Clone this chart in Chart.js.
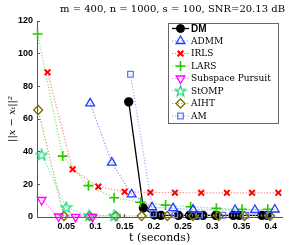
<!DOCTYPE html>
<html>
<head>
<meta charset="utf-8">
<script src="https://cdn.jsdelivr.net/npm/chart.js@4.4.1/dist/chart.umd.min.js"></script>
<style>
  html, body { margin: 0; padding: 0; background: #fff; }
</style>
</head>
<body>
<canvas id="myChart" width="289" height="245"></canvas>
<script>
// values
const dmX    = [0.157, 0.182, 0.201, 0.212, 0.242, 0.261, 0.274, 0.284, 0.306, 0.336, 0.346, 0.385, 0.394];
const dmY    = [70.5, 5.5, 1.2, 1.0, 1.0, 1.0, 1.0, 1.0, 1.0, 1.0, 1.0, 1.0, 1.0];
const admmX  = [0.091, 0.128, 0.162, 0.197, 0.233, 0.267, 0.339, 0.373, 0.407];
const admmY  = [69.6, 33.3, 13.9, 6.0, 5.4, 4.5, 4.3, 4.3, 4.6];
const irlsX  = [0.018, 0.061, 0.105, 0.150, 0.194, 0.236, 0.281, 0.325, 0.368, 0.413];
const irlsY  = [88.6, 29.2, 18.6, 15.5, 15.0, 14.9, 14.8, 14.8, 14.8, 14.8];
const larsX  = [0.001, 0.044, 0.088, 0.132, 0.177, 0.220, 0.263, 0.307, 0.351, 0.395];
const larsY  = [112, 37.3, 19.2, 11.8, 9.0, 7.3, 6.3, 5.3, 4.7, 4.7];
const spX    = [0.008, 0.037, 0.066, 0.095];
const spY    = [10.4, 0.3, 0.1, 0.1];
const stompX = [0.008, 0.050, 0.089, 0.132];
const stompY = [38, 5.9, 0.8, 0.8];
const aihtX  = [0.002, 0.046, 0.090, 0.135, 0.179, 0.223, 0.267, 0.311, 0.355, 0.399];
const aihtY  = [65.5, 0.6, 0.6, 0.6, 0.6, 0.6, 0.6, 0.6, 0.6, 0.6];
const amX    = [0.160, 0.199, 0.236, 0.278, 0.318, 0.357, 0.397];
const amY    = [87.4, 2.0, 1.3, 1.2, 1.1, 1.1, 1.1];

const yTicks = [0, 20, 40, 60, 80, 100, 120];
const xTicks = [0.05, 0.1, 0.15, 0.2, 0.25, 0.3, 0.35, 0.4];

function pts(xs, ys) {
  return xs.map(function(x, i) { return {x: x, y: ys[i]}; });
}

// five point star marker for StOMP
function starMarker(color) {
  const c = document.createElement('canvas');
  c.width = 13; c.height = 13;
  const g = c.getContext('2d');
  g.strokeStyle = color;
  g.lineWidth = 1.2;
  g.beginPath();
  for (let i = 0; i < 10; i++) {
    const r = i % 2 === 0 ? 5.6 : 2.3;
    const a = -Math.PI / 2 + i * Math.PI / 5;
    const px = 6.5 + r * Math.cos(a), py = 6.8 + r * Math.sin(a);
    if (i === 0) g.moveTo(px, py); else g.lineTo(px, py);
  }
  g.closePath();
  g.stroke();
  return c;
}

function dotted(label, data, color, lineColor, style, extra) {
  return Object.assign({
    label: label,
    data: data,
    borderColor: lineColor,
    borderWidth: 1.2,
    borderDash: [1.2, 1.8],
    pointStyle: style,
    pointRadius: 4.5,
    pointBorderColor: color,
    pointBackgroundColor: 'rgba(0,0,0,0)',
    pointBorderWidth: 1.3,
    fill: false,
    clip: false,
    tension: 0
  }, extra || {});
}

const datasets = [
  {
    label: 'DM',
    data: pts(dmX, dmY),
    borderColor: '#000',
    borderWidth: 1.3,
    pointStyle: 'circle',
    pointRadius: 4,
    pointBorderColor: '#000',
    pointBackgroundColor: '#000',
    fill: false,
    clip: false,
    tension: 0,
    order: 5
  },
  dotted('ADMM', pts(admmX, admmY), 'rgb(30,60,255)', 'rgb(140,150,255)', 'triangle', {pointRadius: 5}),
  dotted('IRLS', pts(irlsX, irlsY), 'rgb(255,0,0)', 'rgb(255,130,130)', 'crossRot', {pointRadius: 4, pointBorderWidth: 2}),
  dotted('LARS', pts(larsX, larsY), 'rgb(40,200,0)', 'rgb(130,225,110)', 'cross', {pointRadius: 5, pointBorderWidth: 1.6}),
  dotted('Subspace Pursuit', pts(spX, spY), 'rgb(255,0,255)', 'rgb(255,130,255)', 'triangle', {rotation: 180, pointRotation: 180, pointRadius: 5}),
  dotted('StOMP', pts(stompX, stompY), 'rgb(20,215,120)', 'rgb(120,230,170)', starMarker('rgb(20,215,120)')),
  dotted('AIHT', pts(aihtX, aihtY), 'rgb(120,110,0)', 'rgb(175,165,100)', 'rectRot', {pointRadius: 4.5}),
  dotted('AM', pts(amX, amY), 'rgb(100,120,255)', 'rgb(160,170,255)', 'rect', {pointRadius: 4})
];

// legend box drawn inside the plot area
const boxLegend = {
  id: 'boxLegend',
  afterDraw(chart) {
    const ctx = chart.ctx;
    const ca = chart.chartArea;
    const left = ca.left + 131, top = ca.top + 2, w = 110, h = 100;
    ctx.save();
    ctx.fillStyle = '#fff';
    ctx.fillRect(left, top, w, h);
    ctx.strokeStyle = '#666';
    ctx.lineWidth = 1;
    ctx.strokeRect(left + 0.5, top + 0.5, w, h);
    chart.data.datasets.forEach(function(ds, i) {
      const y = top + 5.5 + i * 12.5;
      ctx.save();
      ctx.strokeStyle = ds.borderColor;
      ctx.lineWidth = ds.borderWidth;
      ctx.setLineDash(ds.borderDash || []);
      ctx.beginPath();
      ctx.moveTo(left + 4, y);
      ctx.lineTo(left + 21, y);
      ctx.stroke();
      ctx.restore();
      ctx.save();
      ctx.strokeStyle = ds.pointBorderColor;
      ctx.fillStyle = ds.pointBackgroundColor;
      ctx.lineWidth = ds.pointBorderWidth || 1;
      Chart.helpers.drawPoint(ctx, {
        pointStyle: ds.pointStyle,
        radius: ds.pointRadius,
        rotation: ds.pointRotation || 0,
        borderWidth: ds.pointBorderWidth || 1
      }, left + 12.5, y);
      ctx.restore();
      ctx.fillStyle = '#000';
      ctx.textBaseline = 'middle';
      ctx.textAlign = 'left';
      ctx.font = i === 0 ? 'bold 10px "Liberation Sans"' : '9px "DejaVu Serif"';
      ctx.fillText(ds.label, left + 23, y + 0.5);
    });
    ctx.restore();
  }
};

const ctx = document.getElementById('myChart').getContext('2d');
const myChart = new Chart(ctx, {
  type: 'line',
  data: {datasets: datasets},
  plugins: [boxLegend],
  options: {
    responsive: false,
    animation: false,
    devicePixelRatio: 1,
    layout: {padding: {left: 0, right: 4, top: 0, bottom: 0}},
    plugins: {
      legend: {display: false},
      tooltip: {enabled: false},
      title: {
        display: true,
        text: 'm = 400, n = 1000, s = 100, SNR=20.13 dB',
        align: 'end',
        color: '#000',
        font: {family: 'DejaVu Serif', size: 10, weight: 'normal'},
        padding: {top: 3, bottom: 6}
      }
    },
    scales: {
      x: {
        type: 'linear',
        min: 0,
        max: 0.42,
        afterFit: function(scale) { scale.height = 28; },
        afterBuildTicks: function(scale) {
          scale.ticks = xTicks.map(function(v) { return {value: v}; });
        },
        ticks: {
          color: '#000',
          padding: 7,
          font: {family: 'Liberation Sans', size: 9, weight: 'bold'},
          callback: function(v) { return xTicks.indexOf(v) >= 0 ? String(v) : ''; }
        },
        grid: {drawOnChartArea: false, tickLength: -3, color: '#555'},
        border: {color: '#555'},
        title: {
          display: true,
          text: 't (seconds)',
          color: '#000',
          font: {family: 'DejaVu Serif', size: 11},
          padding: {top: 1, bottom: 0}
        }
      },
      y: {
        min: 0,
        max: 120,
        afterFit: function(scale) { scale.width = 37; },
        afterBuildTicks: function(scale) {
          scale.ticks = yTicks.map(function(v) { return {value: v}; });
        },
        ticks: {
          color: '#000',
          padding: 7,
          font: {family: 'Liberation Sans', size: 9, weight: 'bold'}
        },
        grid: {drawOnChartArea: false, tickLength: -3, color: '#555'},
        border: {color: '#555'},
        title: {
          display: true,
          text: '||x \u2212 x\u209c||\u00b2',
          color: '#000',
          font: {family: 'DejaVu Serif', size: 10, style: 'italic'},
          padding: {top: 6, bottom: 0}
        }
      }
    }
  }
});
</script>
</body>
</html>
